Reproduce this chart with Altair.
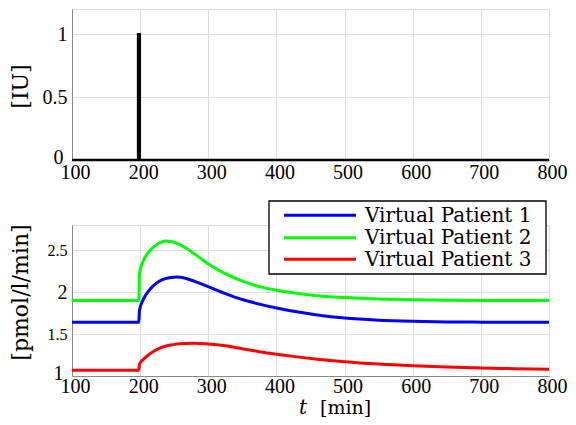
import altair as alt
import pandas as pd

# ---------------- data ----------------
# top panel: insulin bolus [IU]
bolus_t = [100, 197, 197, 199.5, 199.5, 800]
bolus_v = [0, 0, 1, 1, 0, 0]

# bottom panel
t = [100, 198, 199, 205, 212, 220, 228, 237, 245, 254, 265, 280, 300, 325, 350,
     375, 400, 430, 460, 500, 550, 600, 650, 700, 750, 800]
vp1 = [1.64, 1.64, 1.78, 1.92, 2.01, 2.08, 2.13, 2.16, 2.175, 2.18, 2.168, 2.128,
       2.065, 1.983, 1.912, 1.857, 1.810, 1.765, 1.727, 1.690, 1.665, 1.652, 1.645,
       1.642, 1.64, 1.64]
vp2 = [1.90, 1.90, 2.22, 2.38, 2.47, 2.54, 2.585, 2.61, 2.603, 2.58, 2.535, 2.455,
       2.335, 2.22, 2.13, 2.065, 2.022, 1.985, 1.958, 1.935, 1.918, 1.908, 1.903,
       1.90, 1.90, 1.90]
vp3 = [1.07, 1.07, 1.14, 1.20, 1.25, 1.295, 1.33, 1.355, 1.37, 1.38, 1.387, 1.39,
       1.382, 1.36, 1.325, 1.29, 1.26, 1.228, 1.20, 1.17, 1.142, 1.122, 1.107,
       1.096, 1.087, 1.08]

names = ["Virtual Patient 1", "Virtual Patient 2", "Virtual Patient 3"]
colors = ["#0000ff", "#00ff00", "#ff0000"]

x_ticks = [100, 200, 300, 400, 500, 600, 700, 800]
top_y_ticks = [0, 0.5, 1]
bot_y_ticks = [1, 1.5, 2, 2.5]

# ---------------- frames ----------------
top_df = pd.DataFrame({"t": bolus_t, "v": bolus_v, "i": range(len(bolus_t))})
rows = []
for name, vals in zip(names, [vp1, vp2, vp3]):
    for k, (tt, vv) in enumerate(zip(t, vals)):
        rows.append({"t": tt, "v": vv, "series": name, "i": k})
bot_df = pd.DataFrame(rows)

W, H = 477, 151
NUM_FONT = "Liberation Serif"
TXT_FONT = "DejaVu Serif"


def x_axis(pad):
    return alt.Axis(values=x_ticks, title=None, labelFont=NUM_FONT, labelFontSize=20,
                    labelOffset=3, labelPadding=pad, ticks=False, grid=True, labelFlush=False)


low_offset = {"condition": {"test": "datum.index === 0", "value": -3}, "value": 0}
low_pad = {"condition": {"test": "datum.index === 0", "value": 9}, "value": 5}

top = alt.Chart(top_df).mark_line(color="black", strokeWidth=2.5).encode(
    x=alt.X("t:Q", scale=alt.Scale(domain=[100, 800], nice=False), axis=x_axis(2)),
    y=alt.Y("v:Q", scale=alt.Scale(domain=[0, 1.2], nice=False),
            axis=alt.Axis(values=top_y_ticks, format=".1~f", title="[IU]", titleFont=TXT_FONT,
                          titleFontSize=22, titleFontWeight="normal",
                          titleX=-40, titleY=77, titleAngle=270,
                          labelFont=NUM_FONT, labelFontSize=20, labelPadding=low_pad,
                          labelOffset=low_offset,
                          ticks=False, grid=True, labelFlush=False)),
    order="i:Q",
).properties(width=W, height=H)

bot_lines = alt.Chart(bot_df).mark_line(strokeWidth=3, interpolate="monotone").encode(
    x=alt.X("t:Q", scale=alt.Scale(domain=[100, 800], nice=False), axis=x_axis(0)),
    y=alt.Y("v:Q", scale=alt.Scale(domain=[1, 2.8], nice=False),
            axis=alt.Axis(values=bot_y_ticks, format=".1~f", title="[pmol/l/min]", titleFont=TXT_FONT,
                          titleFontSize=22, titleFontWeight="normal",
                          titleX=-40, titleY=67, titleAngle=270,
                          labelFont=NUM_FONT,
                          labelFontSize={"condition": {"test": "datum.value % 1 !== 0", "value": 16},
                                         "value": 20},
                          labelOffset=low_offset, labelPadding=low_pad,
                          ticks=False, grid=True, labelFlush=False)),
    color=alt.Color("series:N", scale=alt.Scale(domain=names, range=colors), legend=None),
    detail="series:N",
    order="i:Q",
)

# legend box
legend_box = alt.Chart(pd.DataFrame({"a": [0]})).mark_rect(
    fill="white", stroke="black", strokeWidth=1.3
).encode(x=alt.value(197), x2=alt.value(474), y=alt.value(-24), y2=alt.value(49))

legend_layers = [legend_box]
row_y = [-9.7, 12.7, 34.3]
for name, col, yy in zip(names, colors, row_y):
    d = pd.DataFrame({"name": [name]})
    legend_layers.append(
        alt.Chart(d).mark_rule(color=col, strokeWidth=3).encode(
            x=alt.value(212), x2=alt.value(284), y=alt.value(yy))
    )
    legend_layers.append(
        alt.Chart(d).mark_text(font=TXT_FONT, fontSize=20, align="left",
                               baseline="alphabetic", color="black").encode(
            x=alt.value(293), y=alt.value(yy + 6.5), text="name:N")
    )

# x axis title: italic t + [min]
xt = alt.Chart(pd.DataFrame({"s": ["t"]})).mark_text(
    font=TXT_FONT, fontSize=20, fontStyle="italic", align="center",
    baseline="alphabetic", color="black").encode(
    x=alt.value(231), y=alt.value(189), text="s:N")
xm = alt.Chart(pd.DataFrame({"s": ["[min]"]})).mark_text(
    font=TXT_FONT, fontSize=19, align="left",
    baseline="alphabetic", color="black").encode(
    x=alt.value(248), y=alt.value(189), text="s:N")

bottom = alt.layer(bot_lines, *legend_layers, xt, xm).properties(width=W, height=H)

chart = alt.vconcat(top, bottom, spacing=65, bounds="flush").properties(
    padding={"left": 0, "top": 0, "right": 0, "bottom": 0}
).configure_view(
    stroke="black", strokeWidth=1.3
).configure_axis(
    domainColor="black", domainWidth=1.3, labelColor="black", titleColor="black",
    gridColor="#222222", gridDash=[1, 5], gridOpacity=1, gridWidth=1
).configure(background="white")

chart.save("out.html", embed_options={"renderer": "svg", "actions": False})
